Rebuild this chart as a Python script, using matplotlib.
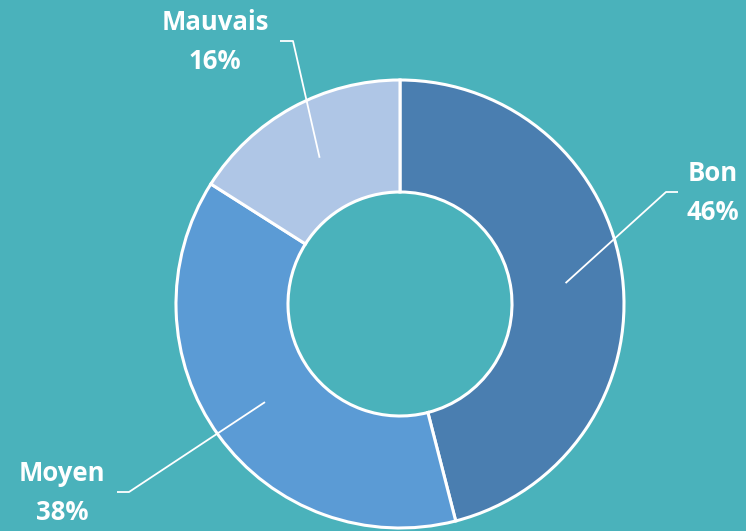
import numpy as np
import matplotlib.pyplot as plt

labels = ["Bon", "Moyen", "Mauvais"]
values = [46, 38, 16]
colors = ["#4A7EB0", "#5B9BD5", "#AFC6E6"]
bg = "#4AB2BB"

# label anchor (text centre) and elbow of the leader line, in pixels from top-left
text_pos = [(713, 193), (62, 493), (215, 42)]
elbow = [(666, 192), (129, 492), (293, 41)]
elbow_end = [(678, 192), (117, 492), (280, 41)]

W, H = 746, 531
fig = plt.figure(figsize=(W / 100, H / 100), dpi=100, facecolor=bg)
ax = fig.add_axes([0, 0, 1, 1])
ax.set_facecolor(bg)

cx, cy, R = 400, H - 304, 224
wedges, _ = ax.pie(values, colors=colors, startangle=90, counterclock=False,
                   center=(cx, cy), radius=R, frame=True,
                   wedgeprops=dict(width=R * 0.5, edgecolor="white", linewidth=2.2))
ax.set_xlim(0, W)
ax.set_ylim(0, H)
ax.set_aspect("equal")
ax.axis("off")

for w, lab, v, tp, el, ee in zip(wedges, labels, values, text_pos, elbow, elbow_end):
    mid = np.deg2rad((w.theta1 + w.theta2) / 2)
    r = R * 0.745
    px, py = cx + r * np.cos(mid), cy + r * np.sin(mid)
    ax.plot([px, el[0], ee[0]], [py, H - el[1], H - ee[1]], color="white", lw=1.3,
            solid_capstyle="butt")
    ax.text(tp[0], H - tp[1], f"{lab}\n{v}%", color="white", fontsize=18.5,
            fontweight="bold", family="Open Sans", ha="center", va="center",
            linespacing=1.55)

fig.savefig("out.png", dpi=100, facecolor=bg)
